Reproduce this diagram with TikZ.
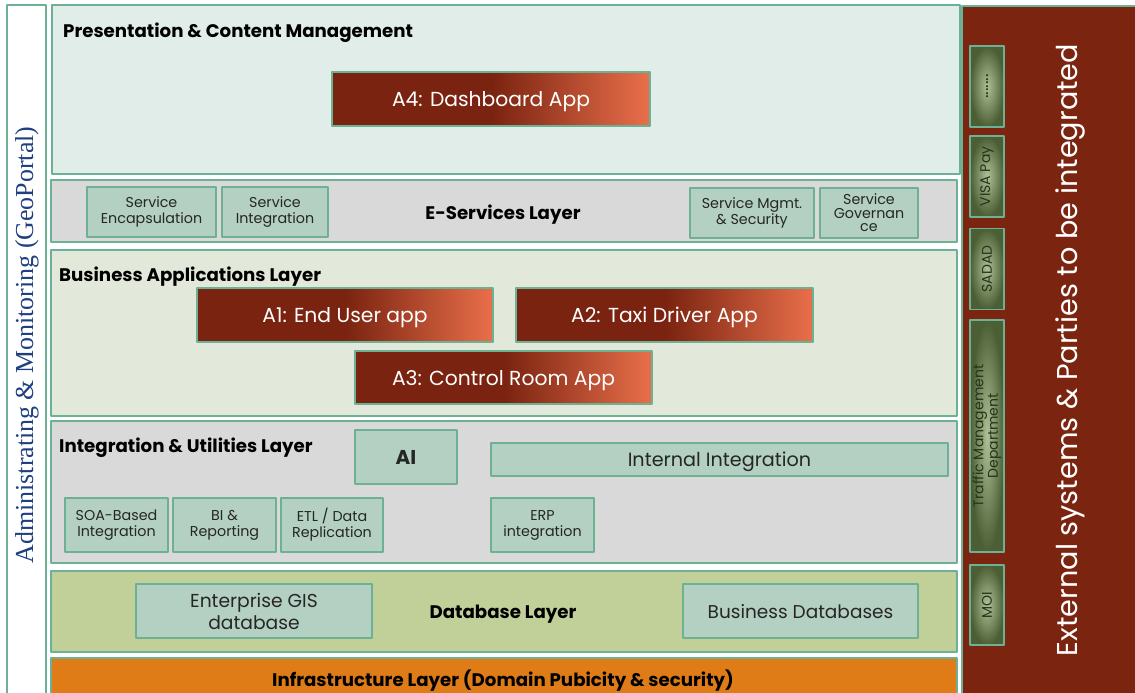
\documentclass[tikz,border=0pt]{standalone}
\usepackage{fontspec}
\setmainfont{Poppins}
\newfontfamily\sidefont{Liberation Serif}
\usetikzlibrary{positioning}

% colours of the layers and boxes
\definecolor{edgegreen}{HTML}{6DB194}
\definecolor{tilefill}{HTML}{B3D0C2}
\definecolor{tiletext}{HTML}{262626}
\definecolor{presfill}{HTML}{E1EDE9}
\definecolor{greyfill}{HTML}{D9D9D9}
\definecolor{busfill}{HTML}{E3E9DA}
\definecolor{dbfill}{HTML}{C1D098}
\definecolor{infrafill}{HTML}{E07C18}
\definecolor{extpanel}{HTML}{7B2410}
\definecolor{appdark}{HTML}{7A2310}
\definecolor{applight}{HTML}{E96F4B}
\definecolor{extdark}{HTML}{4C5F34}
\definecolor{extlight}{HTML}{AFC197}
\definecolor{exttext}{HTML}{26331A}
\definecolor{sideblue}{HTML}{1F3F80}

% app boxes: dark on the left half, orange on the right
\pgfdeclarehorizontalshading{appshade}{100bp}{color(0bp)=(appdark); color(50bp)=(appdark); color(75bp)=(applight); color(100bp)=(applight)}

\begin{document}
\begin{tikzpicture}[x=1pt, y=-1pt, line join=round,
    layer/.style={draw=edgegreen, line width=2.2pt},
    title/.style={font=\bfseries\fontsize{18.2}{21}\selectfont, inner sep=0pt, text depth=0pt},
    tile/.style={draw=edgegreen, line width=1.4pt, fill=tilefill, inner sep=0pt, align=center,
      text=tiletext, font=\fontsize{14.3}{16}\selectfont},
    app/.style={draw=edgegreen, line width=1.4pt, shade, shading=appshade, inner sep=0pt,
      text=white, minimum width=296pt, minimum height=54pt, text depth=0pt,
      font=\fontsize{20.3}{23}\selectfont},
    ext/.style={draw=edgegreen, line width=1.2pt, inner color=extlight, outer color=extdark,
      rotate=90, inner sep=0pt, minimum height=34pt, align=center, text=exttext,
      font=\fontsize{14}{14.5}\selectfont}]

  \useasboundingbox (0,0) rectangle (1135,693);

  % --- Administrating column (left) ---
  \filldraw[layer, fill=white] (7,5) rectangle (46,700);
  \node[rotate=90, text=sideblue, font=\sidefont\fontsize{25.9}{28}\selectfont] (admin) at (27,345)
    {Administrating \& Monitoring (GeoPortal)};

  % --- Presentation & Content Management ---
  \filldraw[layer, fill=presfill] (52,5) rectangle (960,174);
  \node[title, anchor=west] (prestitle) at (63,30) {Presentation \& Content Management};
  \node[app, minimum width=318pt] (a4) at (491,99) {A4: Dashboard App};

  % --- E-Services Layer ---
  \filldraw[layer, fill=greyfill] (51,180) rectangle (957,242);
  \node[title] (estitle) at (503,212) {E-Services Layer};
  \node[tile, minimum width=129pt, minimum height=50pt] (encap) at (151.5,212) {Service\\Encapsulation};
  \node[tile, minimum width=106pt, minimum height=50pt] (sinteg) at (275,212) {Service\\Integration};
  \node[tile, minimum width=124pt, minimum height=50pt] (smgmt) at (752,213) {Service Mgmt.\\\& Security};
  \node[tile, minimum width=98pt, minimum height=50pt, font=\fontsize{14.3}{13.5}\selectfont] (sgov) at (869,213) {Service\\Governan\\ce};

  % --- Business Applications Layer ---
  \filldraw[layer, fill=busfill] (51,250) rectangle (957,416);
  \node[title, anchor=west] (bustitle) at (59,274) {Business Applications Layer};
  \node[app] (a1) at (345,315) {A1: End User app};
  \node[app, minimum width=297pt] (a2) at (664.5,315) {A2: Taxi Driver App};
  \node[app, minimum width=297pt, minimum height=53pt] (a3) at (503.5,377.5) {A3: Control Room App};

  % --- Integration & Utilities Layer ---
  \filldraw[layer, fill=greyfill] (51,421) rectangle (957,563);
  \node[title, anchor=west] (inttitle) at (59,445) {Integration \& Utilities Layer};
  \node[tile, minimum width=102pt, minimum height=54pt, font=\bfseries\fontsize{20}{22}\selectfont] (ai) at (406,457) {AI};
  \node[tile, minimum width=457pt, minimum height=33pt, text depth=0pt, font=\fontsize{19.2}{21}\selectfont] (internal) at (719.5,459.5) {Internal Integration};
  \node[tile, minimum width=103pt, minimum height=54pt] (soa) at (116.5,525) {SOA-Based\\Integration};
  \node[tile, minimum width=103pt, minimum height=54pt] (bi) at (224.5,525) {BI \&\\Reporting};
  \node[tile, minimum width=102pt, minimum height=54pt] (etl) at (332,525) {ETL / Data\\Replication};
  \node[tile, minimum width=103pt, minimum height=54pt] (erp) at (542.5,525) {ERP\\integration};

  % --- Database Layer ---
  \filldraw[layer, fill=dbfill] (51,571) rectangle (957,652);
  \node[title] (dbtitle) at (503,612) {Database Layer};
  \node[tile, minimum width=236pt, minimum height=54pt, font=\fontsize{18.7}{22}\selectfont] (gisdb) at (254,611) {Enterprise GIS\\database};
  \node[tile, minimum width=235pt, minimum height=54pt, text depth=0pt, font=\fontsize{18.5}{21}\selectfont] (busdb) at (800.5,611) {Business Databases};

  % --- Infrastructure Layer ---
  \filldraw[layer, fill=infrafill] (51,658) rectangle (957,700);
  \node[title] (infratitle) at (503,678) {Infrastructure Layer (Domain Pubicity \& security)};

  % --- External systems (right) ---
  \filldraw[layer, fill=extpanel] (962,6) rectangle (1140,700);
  \node[rotate=90, text=white, font=\fontsize{28.7}{32}\selectfont] (exttitle) at (1070,350)
    {External systems \& Parties to be integrated};
  \node[ext, minimum width=81pt, text depth=0pt, font=\fontsize{17}{18}\selectfont] (more) at (987,86.5) {.......};
  \node[ext, minimum width=81pt] (visa) at (987,176.5) {VISA Pay};
  \node[ext, minimum width=81pt] (sadad) at (987,269) {SADAD};
  \node[ext, minimum width=232pt] (traffic) at (987,436) {Traffic Management\\Department};
  \node[ext, minimum width=80pt] (moi) at (987,605) {MOI};

\end{tikzpicture}
\end{document}
